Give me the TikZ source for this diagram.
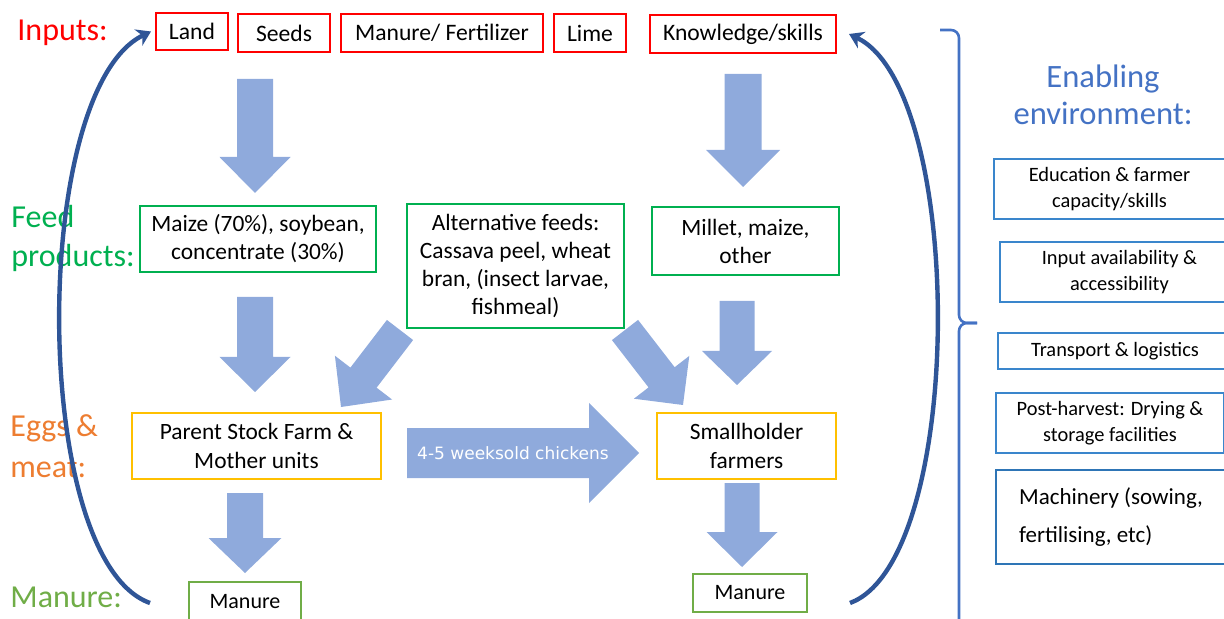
\documentclass[tikz,border=0pt]{standalone}
\usepackage{fontspec}
\setmainfont{Carlito}
\newfontfamily\verd{DejaVu Sans}
\usetikzlibrary{arrows.meta}
\definecolor{inred}{HTML}{FF0000}
\definecolor{feedgreen}{HTML}{00B050}
\definecolor{eggyellow}{HTML}{FFC000}
\definecolor{eggorange}{HTML}{ED7D31}
\definecolor{mangreen}{HTML}{70AD47}
\definecolor{envblue}{HTML}{3A86CC}
\definecolor{machblue}{HTML}{2E75B6}
\definecolor{titleblue}{HTML}{4472C4}
\definecolor{fatfill}{HTML}{8FAADC}
\definecolor{curvecol}{HTML}{2F5597}
\newcommand\fs[2]{\fontsize{#1}{#2}\selectfont}
% box from pixel corners: name, x1, y1, x2, y2, style, text
\newcommand\pbox[7]{%
  \pgfmathsetmacro\pbCX{(#2+#4)/2}\pgfmathsetmacro\pbCY{(#3+#5)/2}%
  \pgfmathsetmacro\pbW{(#4-#2)*0.5}\pgfmathsetmacro\pbH{(#5-#3)*0.5}%
  \node[#6, minimum width=\pbW pt, minimum height=\pbH pt] (#1) at (\pbCX,\pbCY) {#7};}
% fat arrow: x0 y0 x1 y1 shafthalf headhalf headlength
\newcommand\fatarrow[7]{%
  \pgfmathsetmacro\faDX{(#3-#1)/100}\pgfmathsetmacro\faDY{(#4-#2)/100}%
  \pgfmathsetmacro\faL{sqrt((\faDX)*(\faDX)+(\faDY)*(\faDY))}%
  \pgfmathsetmacro\faUX{(\faDX)/(\faL)}\pgfmathsetmacro\faUY{(\faDY)/(\faL)}%
  \pgfmathsetmacro\faNX{-1*(\faUY)}\pgfmathsetmacro\faNY{\faUX}%
  \pgfmathsetmacro\faBX{#3-(\faUX)*(#7)}\pgfmathsetmacro\faBY{#4-(\faUY)*(#7)}%
  \fill[fatarrow] ({#1+(\faNX)*(#5)},{#2+(\faNY)*(#5)})
    -- ({\faBX+(\faNX)*(#5)},{\faBY+(\faNY)*(#5)})
    -- ({\faBX+(\faNX)*(#6)},{\faBY+(\faNY)*(#6)})
    -- (#3,#4)
    -- ({\faBX-(\faNX)*(#6)},{\faBY-(\faNY)*(#6)})
    -- ({\faBX-(\faNX)*(#5)},{\faBY-(\faNY)*(#5)})
    -- ({#1-(\faNX)*(#5)},{#2-(\faNY)*(#5)}) -- cycle;}
\begin{document}
\begin{tikzpicture}[x=0.5pt,y=-0.5pt,
  box/.style={draw, fill=white, line width=1pt, inner sep=0pt, align=center, text=black},
  inbox/.style={box, draw=inred, font=\fs{11.8}{14}},
  feedbox/.style={box, draw=feedgreen, font=\fs{11.7}{14}},
  eggbox/.style={box, draw=eggyellow, font=\fs{11.7}{14.5}},
  manbox/.style={box, draw=mangreen, line width=0.8pt, font=\fs{11}{13}},
  envbox/.style={box, draw=envblue, line width=0.9pt, font=\fs{10.2}{13}},
  machbox/.style={box, draw=machblue, line width=1.4pt, align=left, font=\fs{11.5}{19}},
  lab/.style={inner sep=0pt, anchor=base west, font=\fs{16}{19}},
  fatarrow/.style={fill=fatfill},
  curve/.style={draw=curvecol, line width=2.2pt, -{Stealth[length=7pt,width=9pt]}},
  brace/.style={draw=titleblue, line width=1.3pt, rounded corners=4pt}]
\clip (0,0) rectangle (1224,619);

% fat arrows
\fatarrow{255}{79}{255}{193}{18}{35.5}{36}
\fatarrow{743}{74}{743}{187}{18.5}{37}{37}
\fatarrow{255}{297}{255}{392}{18}{35.5}{35}
\fatarrow{400}{330}{341}{407}{16.5}{36}{37}
\fatarrow{625}{330}{683}{405}{16.5}{35}{35}
\fatarrow{737}{301}{737}{385}{17.5}{35}{34}
\fatarrow{407}{453}{639}{453}{25}{50}{50}
\fatarrow{245}{493}{245}{573}{18}{36.5}{35}
\fatarrow{742}{483}{742}{567}{17.5}{35.5}{35}
\node[inner sep=0pt, text=white, font=\verd\fs{8.5}{10}] (chick) at (513,453) {4-5 weeksold chickens};

% row labels
\node[lab, text=inred] (lInputs) at (17,41) {Inputs:};
\node[lab, text=feedgreen] (lFeed) at (11,228) {Feed};
\node[lab, text=feedgreen] (lProducts) at (11,267) {products:};
\node[lab, text=eggorange] (lEggs) at (10,437) {Eggs \&};
\node[lab, text=eggorange] (lMeat) at (10,477) {meat:};
\node[lab, text=mangreen] (lManure) at (10,607) {Manure:};
\node[inner sep=0pt, anchor=base, text=titleblue, font=\fs{16.3}{19}] (lEnab) at (1103,88) {Enabling};
\node[inner sep=0pt, anchor=base, text=titleblue, font=\fs{16.3}{19}] (lEnv) at (1103,125) {environment:};

% inputs
\pbox{land}{156}{13}{228}{50}{inbox}{Land}
\pbox{seeds}{238}{14}{330}{52}{inbox}{Seeds}
\pbox{manfert}{341}{14}{543}{52}{inbox}{Manure/ Fertilizer}
\pbox{lime}{554}{14}{626}{52}{inbox}{Lime}
\pbox{know}{650}{15}{836}{53}{inbox}{Knowledge/skills}

% feed products
\pbox{maize}{140}{206}{376}{272}{feedbox}{Maize (70\%), soybean,\\concentrate (30\%)}
\pbox{alt}{407}{204}{624}{328}{feedbox}{Alternative feeds:\\Cassava peel, wheat\\bran, (insect larvae,\\fishmeal)}
\pbox{millet}{652}{207}{839}{275}{feedbox}{Millet, maize,\\other}

% eggs & meat
\pbox{parent}{132}{413}{381}{479}{eggbox}{Parent Stock Farm \&\\Mother units}
\pbox{small}{657}{413}{836}{479}{eggbox}{Smallholder\\farmers}

% manure
\pbox{manL}{189}{582}{301}{622}{manbox}{Manure}
\pbox{manR}{693}{574}{807}{612}{manbox}{Manure}

% enabling environment
\pbox{edu}{994}{159}{1225}{219}{envbox}{Education \& farmer\\capacity/skills}
\pbox{inav}{1000}{242}{1239}{302}{envbox}{Input availability \&\\accessibility}
\pbox{trans}{998}{333}{1232}{369}{envbox}{Transport \& logistics}
\pbox{post}{996}{393}{1224}{453}{envbox}{Post-harvest: Drying \&\\storage facilities}
\pbox{mach}{996}{470}{1226}{564}{machbox}{Machinery (sowing,\\fertilising, etc)}

% brace
\draw[brace] (940,30) -- (959,30) -- (959,323) -- (977,323);
\draw[brace] (977,323) -- (959,323) -- (959,630) -- (940,630);

% recycling curves
\coordinate (lstart) at (150,603);
\coordinate (rstart) at (850,603);
\draw[curve] (lstart) .. controls (30,560) and (30,90) .. ([xshift=-2pt]land.west);
\draw[curve] (rstart) .. controls (966,560) and (966,90) .. ([xshift=6pt]know.east);
\end{tikzpicture}
\end{document}
